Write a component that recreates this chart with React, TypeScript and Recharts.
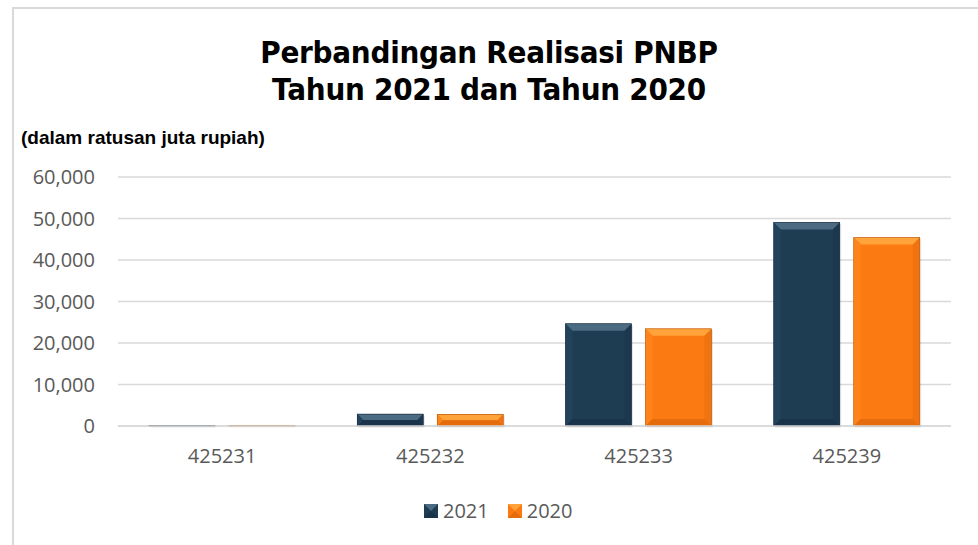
import React from 'react'
import { BarChart, Bar, XAxis, YAxis, CartesianGrid, Legend } from 'recharts'

const categories = ['425231', '425232', '425233', '425239']
const values2021 = [120, 2870, 24640, 49050]
const values2020 = [90, 2820, 23420, 45400]
const yTicks = [0, 10000, 20000, 30000, 40000, 50000, 60000]

const data = categories.map((kode, i) => ({
  kode,
  y2021: values2021[i],
  y2020: values2020[i],
}))

const palette: Record<string, { face: string; top: string; side: string; bottom: string; edge: string }> = {
  y2021: { face: '#1e3d53', top: '#4a6b82', side: '#22435a', bottom: '#19334a', edge: '#12263a' },
  y2020: { face: '#fb7a12', top: '#ffa33a', side: '#fd831a', bottom: '#e56c0c', edge: '#b85506' },
}

const fmt = (v: number) => v.toLocaleString('en-US')

function BevelBar(props: any) {
  const { x, y, width, height, dataKey } = props
  if (width == null || height == null || height <= 0) return null
  const c = palette[dataKey]
  const b = Math.min(7, height / 2, width / 2)
  return (
    <g>
      <rect x={x + 1.5} y={y + 1.5} width={width} height={height} fill="rgba(0,0,0,0.10)" />
      <rect x={x} y={y} width={width} height={height} fill={c.face} />
      <polygon points={`${x},${y} ${x + width},${y} ${x + width - b},${y + b} ${x + b},${y + b}`} fill={c.top} />
      <polygon points={`${x},${y} ${x + b},${y + b} ${x + b},${y + height - b} ${x},${y + height}`} fill={c.side} />
      <polygon points={`${x + width},${y} ${x + width - b},${y + b} ${x + width - b},${y + height - b} ${x + width},${y + height}`} fill={c.bottom} opacity={0.5} />
      <polygon points={`${x},${y + height} ${x + b},${y + height - b} ${x + width - b},${y + height - b} ${x + width},${y + height}`} fill={c.bottom} />
      <rect x={x} y={y} width={width} height={height} fill="none" stroke={c.edge} strokeWidth={0.6} />
    </g>
  )
}

function LegendBox({ k }: { k: string }) {
  const c = palette[k]
  return (
    <svg width={14} height={14} style={{ marginRight: 5 }}>
      <rect x={0} y={0} width={14} height={14} fill={c.face} />
      <polygon points="0,0 14,0 7,7" fill={c.top} />
      <polygon points="0,14 14,14 7,7" fill={c.bottom} />
    </svg>
  )
}

function renderLegend() {
  const items = [
    { k: 'y2021', label: '2021' },
    { k: 'y2020', label: '2020' },
  ]
  return (
    <div style={{ display: 'flex', alignItems: 'center', fontFamily: 'Open Sans', fontSize: 20, color: '#595959' }}>
      {items.map((it, i) => (
        <div key={it.k} style={{ display: 'flex', alignItems: 'center', marginLeft: i ? 19 : 0 }}>
          <LegendBox k={it.k} />
          <span>{it.label}</span>
        </div>
      ))}
    </div>
  )
}

export default function App() {
  return (
    <div style={{ position: 'absolute', left: 0, top: 0, width: 978, height: 545, background: '#fff', overflow: 'hidden' }}>
      <div style={{ position: 'absolute', left: 12, top: 7, width: 1000, height: 600, borderLeft: '2px solid #d9d9d9', borderTop: '2px solid #d9d9d9' }} />
      <div
        style={{
          position: 'absolute',
          left: 0,
          width: 978,
          top: 34,
          textAlign: 'center',
          fontFamily: '"DejaVu Sans", sans-serif',
          fontWeight: 'bold',
          fontSize: 31,
          letterSpacing: -0.3,
          lineHeight: '37px',
          color: '#000',
          transform: 'scaleX(0.9)',
          transformOrigin: '489px 0',
        }}
      >
        <div>Perbandingan Realisasi PNBP</div>
        <div>Tahun 2021 dan Tahun 2020</div>
      </div>
      <div
        style={{
          position: 'absolute',
          left: 21,
          top: 127,
          fontFamily: '"Liberation Sans", Arial, sans-serif',
          fontWeight: 'bold',
          fontSize: 19,
          color: '#000',
        }}
      >
        (dalam ratusan juta rupiah)
      </div>
      <BarChart
        width={978}
        height={545}
        data={data}
        margin={{ top: 177, right: 27, bottom: 61, left: 18 }}
        barSize={66}
        barGap={14}
        style={{ position: 'absolute', left: 0, top: 0 }}
      >
        <CartesianGrid vertical={false} stroke="#d9d9d9" strokeWidth={1.5} />
        <XAxis
          dataKey="kode"
          axisLine={{ stroke: '#d9d9d9', strokeWidth: 1.5 }}
          tickLine={false}
          tickSize={0}
          tickMargin={23}
          height={30}
          tick={{ fill: '#595959', fontFamily: 'Open Sans', fontSize: 20 }}
        />
        <YAxis
          width={100}
          domain={[0, 60000]}
          ticks={yTicks}
          axisLine={false}
          tickLine={false}
          tickSize={0}
          tickMargin={23}
          tickFormatter={fmt}
          tick={{ fill: '#595959', fontFamily: 'Open Sans', fontSize: 20 }}
        />
        <Legend
          content={renderLegend}
          wrapperStyle={{ position: 'absolute', left: 424, top: 497, width: 'auto', height: 28 }}
        />
        <Bar dataKey="y2021" name="2021" shape={BevelBar} isAnimationActive={false} />
        <Bar dataKey="y2020" name="2020" shape={BevelBar} isAnimationActive={false} />
      </BarChart>
    </div>
  )
}
